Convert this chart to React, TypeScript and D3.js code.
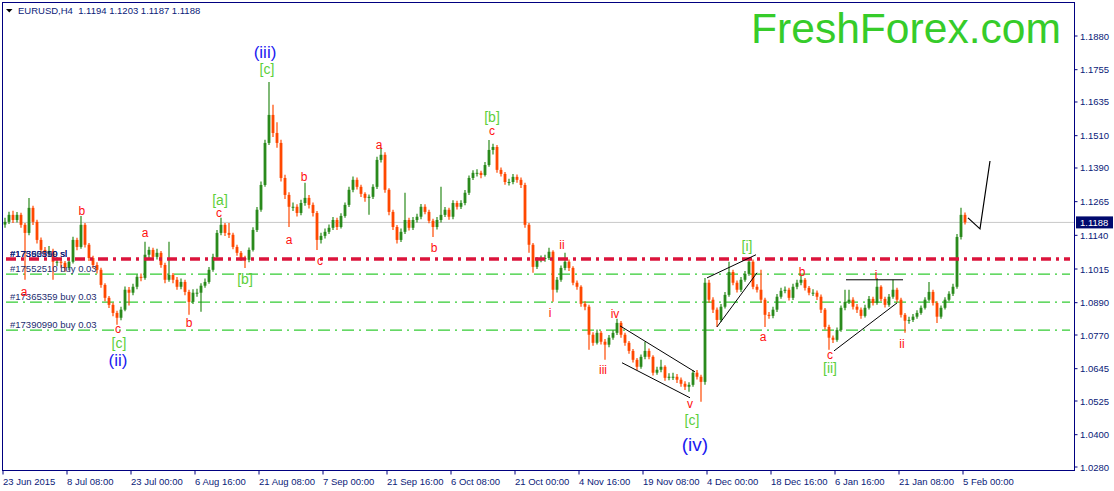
import React from "react";
import * as d3 from "d3";

const W = 1114;
const H = 491;
const FRAME = { left: 2.5, right: 1074.5, top: 2.5, bottom: 470.5 };
const FONT = "'Liberation Sans', Arial, sans-serif";
const NAVY = "#0a1a78";

// EURUSD H4, sampled every 4 bars (16 hours)
const OPEN_FIRST = 1.118;
const CLOSE = [
  1.119, 1.1216, 1.1197, 1.1216, 1.1179, 1.1149, 1.1242, 1.119, 1.1123, 1.1086,
  1.1075, 1.1082, 1.1042, 1.1042, 1.1038, 1.1019, 1.1042, 1.1123, 1.1097, 1.1179,
  1.1105, 1.1056, 1.103, 1.1012, 1.0956, 1.0908, 1.0882, 1.0852, 1.0834, 1.0864,
  1.0938, 1.0927, 1.0949, 1.0986, 1.0982, 1.1068, 1.1086, 1.106, 1.1075, 1.103,
  1.0975, 1.0993, 1.0975, 1.0949, 1.0967, 1.093, 1.0893, 1.0927, 1.0927, 1.0953,
  1.0967, 1.1012, 1.106, 1.1149, 1.1179, 1.1149, 1.1142, 1.1097, 1.1075, 1.1056,
  1.1049, 1.1086, 1.116, 1.1235, 1.1327, 1.1483, 1.1587, 1.152, 1.1483, 1.1353,
  1.129, 1.1246, 1.1246, 1.1223, 1.126, 1.1279, 1.1253, 1.1223, 1.1123, 1.1138,
  1.1153, 1.1168, 1.1197, 1.1171, 1.1212, 1.1253, 1.1309, 1.1346, 1.132, 1.1294,
  1.1279, 1.1283, 1.132, 1.142, 1.1439, 1.1309, 1.1227, 1.1171, 1.1123, 1.1153,
  1.1197, 1.1168, 1.1197, 1.1209, 1.1246, 1.1227, 1.1194, 1.1171, 1.1197, 1.1216,
  1.1235, 1.1209, 1.126, 1.1246, 1.126, 1.1298, 1.1353, 1.1372, 1.1372, 1.1364,
  1.1401, 1.1457, 1.1468, 1.1383, 1.1368, 1.1338, 1.1338, 1.1357, 1.1346, 1.1327,
  1.1179, 1.1105, 1.1023, 1.1049, 1.1053, 1.1056, 1.1079, 1.0938, 1.0975, 1.1019,
  1.1042, 1.1019, 1.0964, 1.0949, 1.0886, 1.0875, 1.0771, 1.0741, 1.0778, 1.0745,
  1.0734, 1.076, 1.0778, 1.0815, 1.0771, 1.0741, 1.0711, 1.0678, 1.0652, 1.0689,
  1.0711, 1.0689, 1.063, 1.0641, 1.0652, 1.0611, 1.0615, 1.0615, 1.0604, 1.0589,
  1.0578, 1.0585, 1.063, 1.0615, 1.0596, 1.0964, 1.0901, 1.0864, 1.0826, 1.0875,
  1.0919, 1.1004, 1.0964, 1.0938, 1.0975, 1.0997, 1.1042, 1.0949, 1.0938, 1.0901,
  1.0845, 1.0841, 1.0864, 1.0912, 1.0934, 1.0938, 1.0908, 1.0949, 1.0964, 1.0975,
  1.0945, 1.0927, 1.0927, 1.0912, 1.0864, 1.08, 1.076, 1.0752, 1.0789, 1.0871,
  1.0893, 1.0901, 1.0875, 1.0864, 1.0841, 1.0871, 1.0904, 1.0889, 1.0949, 1.0904,
  1.0882, 1.0912, 1.0938, 1.0901, 1.0845, 1.0823, 1.0826, 1.0838, 1.0852, 1.0871,
  1.0901, 1.093, 1.0889, 1.0838, 1.0871, 1.0901, 1.0923, 1.0949, 1.1134, 1.1216,
  1.1188,
];
const HIGH = [
  1.1205, 1.1228, 1.1231, 1.1227, 1.1224, 1.1186, 1.1279, 1.125, 1.1198, 1.1132,
  1.1097, 1.11, 1.109, 1.106, 1.1056, 1.1045, 1.1055, 1.1135, 1.1131, 1.1212,
  1.1186, 1.1112, 1.1064, 1.104, 1.102, 1.0962, 1.0915, 1.089, 1.086, 1.0875,
  1.095, 1.0948, 1.096, 1.0995, 1.0998, 1.1116, 1.1098, 1.1094, 1.109, 1.1082,
  1.1038, 1.1116, 1.1, 1.0985, 1.098, 1.0975, 1.0938, 1.094, 1.0942, 1.0962,
  1.098, 1.1022, 1.1072, 1.116, 1.1205, 1.1186, 1.1186, 1.115, 1.1105, 1.1082,
  1.1064, 1.1095, 1.117, 1.1245, 1.134, 1.1495, 1.1709, 1.1625, 1.156, 1.1495,
  1.1365, 1.13, 1.1262, 1.1255, 1.1272, 1.1335, 1.129, 1.1262, 1.123, 1.115,
  1.1165, 1.118, 1.1208, 1.1205, 1.1222, 1.1262, 1.132, 1.1358, 1.1355, 1.1328,
  1.13, 1.1292, 1.133, 1.1432, 1.1465, 1.1448, 1.1315, 1.1235, 1.1178, 1.1165,
  1.1298, 1.1205, 1.1208, 1.122, 1.1256, 1.1255, 1.1235, 1.1202, 1.1208, 1.132,
  1.1245, 1.1242, 1.127, 1.1268, 1.127, 1.1308, 1.1362, 1.1382, 1.1385, 1.138,
  1.1412, 1.1494, 1.148, 1.1475, 1.1392, 1.1375, 1.135, 1.1368, 1.1366, 1.1355,
  1.1335, 1.1186, 1.1112, 1.106, 1.1065, 1.1068, 1.1094, 1.1085, 1.0985, 1.1028,
  1.1075, 1.105, 1.1025, 1.0972, 1.0955, 1.0895, 1.0882, 1.078, 1.079, 1.0785,
  1.0755, 1.077, 1.0788, 1.083, 1.0822, 1.0778, 1.0748, 1.0718, 1.0685, 1.0698,
  1.0745, 1.072, 1.0695, 1.0652, 1.0678, 1.0658, 1.0628, 1.063, 1.0625, 1.0612,
  1.0598, 1.0595, 1.064, 1.064, 1.0622, 1.0982, 1.0975, 1.091, 1.0872, 1.0885,
  1.093, 1.1042, 1.1012, 1.0972, 1.0985, 1.1008, 1.1056, 1.105, 1.0958, 1.1012,
  1.0908, 1.0855, 1.0875, 1.0922, 1.0945, 1.095, 1.0945, 1.096, 1.0975, 1.0993,
  1.0982, 1.0952, 1.094, 1.0935, 1.092, 1.087, 1.0808, 1.0768, 1.0798, 1.088,
  1.0938, 1.0938, 1.091, 1.0885, 1.0872, 1.0882, 1.0915, 1.0912, 1.0982, 1.0955,
  1.0912, 1.0922, 1.0975, 1.0945, 1.0908, 1.0852, 1.0838, 1.0848, 1.0862, 1.088,
  1.091, 1.0967, 1.0938, 1.0895, 1.088, 1.091, 1.0932, 1.096, 1.1145, 1.1242,
  1.1225,
];
const LOW = [
  1.1168, 1.1182, 1.1186, 1.1188, 1.1168, 1.0975, 1.114, 1.1178, 1.111, 1.1072,
  1.106, 1.1064, 1.0975, 1.1025, 1.102, 1.1005, 1.101, 1.1035, 1.1085, 1.109,
  1.1095, 1.1045, 1.1018, 1.0998, 1.0945, 1.0895, 1.087, 1.084, 1.0808, 1.0825,
  1.0858, 1.088, 1.0918, 1.094, 1.097, 1.0975, 1.1055, 1.105, 1.105, 1.102,
  1.0962, 1.0968, 1.0962, 1.0938, 1.094, 1.0918, 1.0845, 1.0885, 1.0912, 1.0856,
  1.0945, 1.096, 1.1005, 1.1052, 1.114, 1.1138, 1.113, 1.1088, 1.1064, 1.1045,
  1.1019, 1.104, 1.108, 1.1152, 1.1228, 1.132, 1.1475, 1.1505, 1.1465, 1.134,
  1.1275, 1.1171, 1.123, 1.121, 1.1215, 1.125, 1.124, 1.121, 1.1086, 1.111,
  1.1128, 1.1145, 1.116, 1.116, 1.1165, 1.1205, 1.1245, 1.13, 1.131, 1.1282,
  1.1265, 1.1216, 1.1275, 1.1312, 1.141, 1.1298, 1.1215, 1.116, 1.111, 1.1115,
  1.1145, 1.1158, 1.116, 1.1188, 1.12, 1.1218, 1.1185, 1.1134, 1.1162, 1.1188,
  1.1208, 1.1198, 1.12, 1.1236, 1.1238, 1.1252, 1.129, 1.1345, 1.1358, 1.1352,
  1.1358, 1.1395, 1.144, 1.1372, 1.1358, 1.1328, 1.1325, 1.133, 1.1335, 1.1316,
  1.1168, 1.1075, 1.1001, 1.1015, 1.104, 1.1042, 1.1048, 1.0893, 1.0928, 1.0968,
  1.101, 1.1008, 1.0955, 1.0938, 1.0875, 1.0862, 1.0715, 1.073, 1.0735, 1.0735,
  1.0678, 1.0725, 1.0752, 1.077, 1.076, 1.073, 1.07, 1.0668, 1.064, 1.0645,
  1.068, 1.068, 1.062, 1.0622, 1.0632, 1.06, 1.0602, 1.0603, 1.0592, 1.0578,
  1.0566, 1.0559, 1.0578, 1.0605, 1.0522, 1.0585, 1.089, 1.0852, 1.08, 1.0818,
  1.0868, 1.0912, 1.0955, 1.0928, 1.093, 1.0968, 1.099, 1.094, 1.0928, 1.089,
  1.08, 1.083, 1.0832, 1.0855, 1.0905, 1.0925, 1.0898, 1.09, 1.094, 1.0955,
  1.0935, 1.0918, 1.0915, 1.09, 1.0852, 1.079, 1.0715, 1.074, 1.0745, 1.0782,
  1.0862, 1.0885, 1.0865, 1.0852, 1.083, 1.0835, 1.0865, 1.088, 1.0882, 1.0895,
  1.0872, 1.0875, 1.0905, 1.0892, 1.0835, 1.0778, 1.0812, 1.0818, 1.083, 1.0845,
  1.0865, 1.0895, 1.088, 1.0815, 1.083, 1.0865, 1.0895, 1.0915, 1.0942, 1.1125,
  1.118,
];

const PRICE_TICKS = [
  1.188, 1.1755, 1.1635, 1.151, 1.139, 1.1265, 1.114, 1.1015, 1.089, 1.077,
  1.0645, 1.0525, 1.04, 1.028,
];
const TIME_LABELS = [
  "23 Jun 2015", "8 Jul 08:00", "23 Jul 00:00", "6 Aug 16:00", "21 Aug 08:00",
  "7 Sep 00:00", "21 Sep 16:00", "6 Oct 08:00", "21 Oct 00:00", "4 Nov 16:00",
  "19 Nov 08:00", "4 Dec 00:00", "18 Dec 16:00", "6 Jan 16:00", "21 Jan 08:00",
  "5 Feb 00:00",
];
const TIME_STEP = 16;

const LAST_PRICE = 1.1188;
const STOP_LEVEL = 1.1052;
const BUY_LEVELS = [1.0996, 1.0892, 1.0788];
const BUY_TAGS = ["#17552510 buy 0.03", "#17365359 buy 0.03", "#17390990 buy 0.03"];
const SL_TAGS = ["#17552510 sl", "#17365359 sl", "#17390990 sl"];

// wave marks: [text, bar position, price]
const WAVE_MINOR: [string, number, number][] = [
  ["a", 5.25, 1.0916], ["b", 19.7, 1.1216], ["a", 35.5, 1.1134], ["c", 28.75, 1.0778],
  ["b", 46.5, 1.08], ["c", 54, 1.1209], ["a", 71.5, 1.1108], ["b", 75.25, 1.1342],
  ["c", 79.25, 1.103], ["a", 94, 1.1461], ["b", 107.75, 1.1079], ["c", 122.25, 1.1513],
  ["i", 136.75, 1.0838], ["ii", 139.75, 1.109], ["iii", 150, 1.0626], ["iv", 153, 1.0834],
  ["v", 171.75, 1.05], ["a", 190, 1.0749], ["b", 199.75, 1.099], ["c", 206.75, 1.0681],
  ["i", 218.25, 1.0978], ["ii", 224.75, 1.0723],
];
const WAVE_BRACKET: [string, number, number][] = [
  ["[c]", 66, 1.1739], ["[a]", 54.25, 1.1253], ["[b]", 60.5, 1.096], ["[c]", 29, 1.0722],
  ["[b]", 122.25, 1.1561], ["[c]", 172.25, 1.0437], ["[i]", 186, 1.1082], ["[ii]", 206.75, 1.0629],
];
const WAVE_PAREN: [string, number, number, number][] = [
  ["(iii)", 65.5, 1.1798, 17], ["(ii)", 28.75, 1.0656, 17], ["(iv)", 173, 1.034, 19],
];
const TREND_LINES: [number, number][][] = [
  [[154.25, 1.0804], [173, 1.0633]],
  [[154.75, 1.0667], [171.75, 1.0537]],
  [[176, 1.0982], [188.25, 1.1068]],
  [[178.5, 1.08], [188.5, 1.1001]],
  [[210.75, 1.0975], [225, 1.0975]],
  [[207.75, 1.0711], [223.5, 1.0889]],
];
const FORECAST: [number, number][] = [[241.25, 1.1205], [244.25, 1.1164], [246.75, 1.1416]];

export default function App() {
  const x = d3.scaleLinear().domain([0, CLOSE.length]).range([3, 3 + CLOSE.length * 4]);
  const y = d3.scaleLinear().domain([1.028, 1.188]).range([467, 36]);
  const line = d3
    .line<[number, number]>()
    .x((d) => x(d[0]))
    .y((d) => y(d[1]));

  const candles = CLOSE.map((c, i) => {
    const o = i === 0 ? OPEN_FIRST : CLOSE[i - 1];
    const hi = Math.max(HIGH[i], o, c);
    const lo = Math.min(LOW[i], o, c);
    return { i, o, c, hi, lo, up: c >= o };
  });

  return (
    <div style={{ position: "fixed", left: 0, top: 0 }}>
      <svg width={W} height={H} style={{ display: "block", background: "#fff" }} fontFamily={FONT}>
        {/* current price line */}
        <line x1={FRAME.left} x2={FRAME.right} y1={y(LAST_PRICE)} y2={y(LAST_PRICE)} stroke="#c8c8c8" />

        {/* order levels */}
        {BUY_LEVELS.map((lv, k) => (
          <line key={"g" + k} x1={6} x2={1070} y1={y(lv)} y2={y(lv)} stroke="#33cc33"
            strokeWidth={1.2} strokeDasharray="12 5 2 5" />
        ))}

        {/* candles */}
        {candles.map((d) => {
          const cx = x(d.i + 0.5);
          const col = d.up ? "#2a8a1c" : "#ff4800";
          const top = y(Math.max(d.o, d.c));
          const h = Math.max(1, y(Math.min(d.o, d.c)) - top);
          return (
            <g key={d.i}>
              <line x1={cx} x2={cx} y1={y(d.hi)} y2={y(d.lo)} stroke={col} strokeWidth={1.2} />
              <rect x={cx - 1.4} y={top} width={2.8} height={h} fill={col} />
            </g>
          );
        })}

        <line x1={6} x2={1070} y1={y(STOP_LEVEL)} y2={y(STOP_LEVEL)} stroke="#dc143c"
          strokeWidth={3.5} strokeDasharray="10 5 3 5" />

        {BUY_TAGS.map((t, k) => (
          <text key={"bt" + k} x={10} y={y(BUY_LEVELS[k]) - 2} fontSize={9.5} fill="#1c2c70">{t}</text>
        ))}
        {SL_TAGS.map((t, k) => (
          <text key={"st" + k} x={10} y={y(STOP_LEVEL) - 2} fontSize={9.5} fill={NAVY} opacity={0.8}>{t}</text>
        ))}

        {/* drawn lines */}
        {TREND_LINES.map((seg, k) => (
          <path key={"tl" + k} d={line(seg) || ""} stroke="#000" strokeWidth={1} fill="none" />
        ))}
        <path d={line(FORECAST) || ""} stroke="#000" strokeWidth={1.2} fill="none" />

        {/* wave labels */}
        {WAVE_MINOR.map(([t, p, v], k) => (
          <text key={"wm" + k} x={x(p)} y={y(v)} fontSize={12} fill="#ff1010" textAnchor="middle">{t}</text>
        ))}
        {WAVE_BRACKET.map(([t, p, v], k) => (
          <text key={"wb" + k} x={x(p)} y={y(v)} fontSize={14} fill="#5ccf3a" textAnchor="middle">{t}</text>
        ))}
        {WAVE_PAREN.map(([t, p, v, s], k) => (
          <text key={"wp" + k} x={x(p)} y={y(v)} fontSize={s} fill="#1a1af0" textAnchor="middle">{t}</text>
        ))}

        {/* frame */}
        <rect x={FRAME.left} y={FRAME.top} width={FRAME.right - FRAME.left} height={FRAME.bottom - FRAME.top}
          fill="none" stroke="#000080" strokeWidth={1} />

        {/* price axis */}
        {PRICE_TICKS.map((v) => (
          <g key={v}>
            <line x1={FRAME.right} x2={FRAME.right + 3} y1={y(v)} y2={y(v)} stroke="#000080" />
            <text x={1080} y={y(v) + 3.5} fontSize={9.5} fill={NAVY}>{v.toFixed(4)}</text>
          </g>
        ))}
        <rect x={1076} y={y(LAST_PRICE) - 6} width={37} height={12} fill="#000a6e" />
        <text x={1080} y={y(LAST_PRICE) + 3.5} fontSize={9.5} fill="#fff">{LAST_PRICE.toFixed(4)}</text>

        {/* time axis */}
        {TIME_LABELS.map((t, k) => (
          <g key={t}>
            <line x1={x(k * TIME_STEP)} x2={x(k * TIME_STEP)} y1={FRAME.bottom} y2={FRAME.bottom + 4} stroke="#000080" />
            <text x={x(k * TIME_STEP)} y={485} fontSize={9.5} fill={NAVY}>{t}</text>
          </g>
        ))}

        {/* title */}
        <path d="M6,9 L12.5,9 L9.25,12.5 Z" fill="#000" />
        <text x={18} y={14} fontSize={9.5} fill={NAVY} xmlSpace="preserve">EURUSD,H4  1.1194 1.1203 1.1187 1.1188</text>
        <text x={751} y={43} fontSize={42} fill="#36cc2a" textLength={310} lengthAdjust="spacingAndGlyphs">
          FreshForex.com
        </text>
      </svg>
    </div>
  );
}
